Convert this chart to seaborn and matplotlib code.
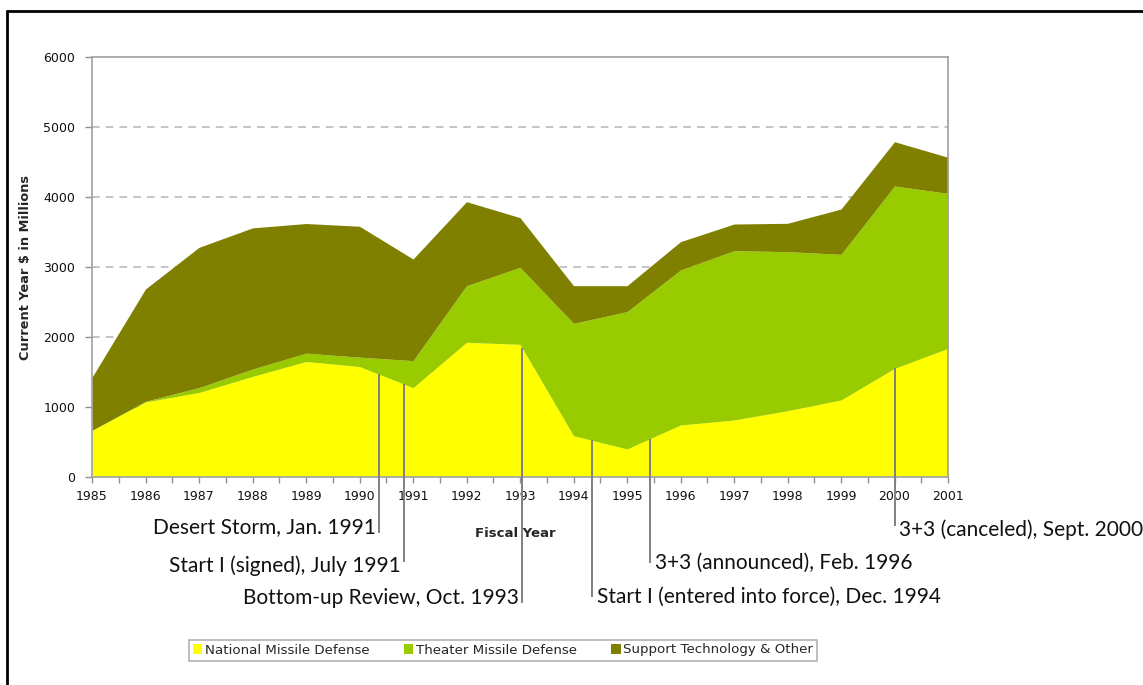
import numpy as np
import pandas as pd
import matplotlib
matplotlib.use("Agg")
import matplotlib.pyplot as plt
from matplotlib.patches import Patch
from matplotlib.lines import Line2D
import seaborn as sns

# ---- data ----
years = [1985, 1986, 1987, 1988, 1989, 1990, 1991, 1992, 1993,
         1994, 1995, 1996, 1997, 1998, 1999, 2000, 2001]
nmd = [660, 1065, 1200, 1430, 1643, 1571, 1269, 1917, 1888,
       583, 393, 736, 807, 940, 1093, 1545, 1831]
tmd = [0, 10, 70, 105, 119, 134, 386, 809, 1100,
       1605, 1962, 2214, 2419, 2272, 2081, 2605, 2214]
support = [758, 1605, 2004, 2017, 1852, 1870, 1452, 1200, 710,
           538, 371, 405, 381, 405, 647, 633, 515]
series_names = ["National Missile Defense", "Theater Missile Defense",
                "Support Technology & Other"]
series_colors = ["#FFFF00", "#99CC00", "#808000"]

# events
event_x = [1990.37, 1990.83, 1993.04, 1994.35, 1995.43, 2000.0]
event_labels = ["Desert Storm, Jan. 1991", "Start I (signed), July 1991",
                "Bottom-up Review, Oct. 1993",
                "Start I (entered into force), Dec. 1994",
                "3+3 (announced), Feb. 1996", "3+3 (canceled), Sept. 2000"]
event_line_end = [-800, -1220, -1800, -1720, -1230, -700]
event_text_y = [-720, -1270, -1740, -1720, -1240, -760]
event_side = ["right", "right", "right", "left", "left", "left"]

df = pd.DataFrame({"year": years, series_names[0]: nmd,
                   series_names[1]: tmd, series_names[2]: support})

sns.set_theme(style="white")
plt.rcParams["font.family"] = ["DejaVu Sans"]

fig = plt.figure(figsize=(11.43, 6.85), dpi=100)
ax = fig.add_axes([92 / 1143, 1 - 476.5 / 685, (948 - 92) / 1143, 420 / 685])

ax.stackplot(df["year"], df[series_names[0]], df[series_names[1]],
             df[series_names[2]], colors=series_colors, linewidth=0, zorder=2)

ax.set_xlim(1985, 2001)
ax.set_ylim(0, 6000)
ax.set_yticks(range(0, 6001, 1000))
ax.set_xticks(years)
ax.set_xticks(np.arange(1985.5, 2001, 1.0), minor=True)
ax.tick_params(axis="x", which="both", direction="out", length=4, width=1,
               color="#909090", bottom=True, pad=6, labelsize=9)
ax.tick_params(axis="y", direction="out", length=5, width=1, color="#909090",
               left=True, pad=7, labelsize=9)
for lab in ax.get_xticklabels() + ax.get_yticklabels():
    lab.set_color("#111111")

for y in range(1000, 6000, 1000):
    ax.axhline(y, color="#B4B4B4", lw=1.1, ls=(0, (5, 4)), zorder=1)

for s in ax.spines.values():
    s.set_color("#A0A0A0")
    s.set_linewidth(1.2)

ax.set_xlabel("Fiscal Year", fontsize=9.5, fontweight="bold")
ax.xaxis.set_label_coords((515 - 92) / (948 - 92), -(527 - 476.5) / 420)
ax.set_ylabel("Current Year $ in Millions", fontsize=9.3, fontweight="bold")
ax.yaxis.set_label_coords(-(92 - 32) / (948 - 92), (476.5 - 267) / 420)

# event annotations
for x, lab, yend, ty, side in zip(event_x, event_labels, event_line_end,
                                  event_text_y, event_side):
    ytop = np.interp(x, years, nmd)
    ax.plot([x, x], [ytop, yend], color="#808080", lw=1.4, clip_on=False,
            zorder=5, solid_capstyle="butt")
    dx = -0.06 if side == "right" else 0.09
    ax.text(x + dx, ty, lab, ha=side, va="center", fontsize=15,
            family=["Lato", "DejaVu Sans"], color="#111111", clip_on=False)

handles = [Patch(facecolor=c, edgecolor="none", label=n)
           for c, n in zip(series_colors, series_names)]
leg = fig.legend(handles=handles, loc="center", ncol=3,
                 bbox_to_anchor=(503 / 1143, 1 - 650 / 685), fontsize=9.6,
                 frameon=True, fancybox=False, handlelength=0.7,
                 handleheight=0.8, handletextpad=0.2, columnspacing=2.6,
                 borderpad=0.3)
leg.get_frame().set_edgecolor("#A0A0A0")
leg.get_frame().set_linewidth(1.2)

# outer black frame (left and top)
fig.add_artist(Line2D([7 / 1143, 7 / 1143], [0, 1 - 11 / 685],
                      transform=fig.transFigure, color="black", lw=2))
fig.add_artist(Line2D([7 / 1143, 1], [1 - 11 / 685, 1 - 11 / 685],
                      transform=fig.transFigure, color="black", lw=2))

fig.savefig("out.png", dpi=100)
